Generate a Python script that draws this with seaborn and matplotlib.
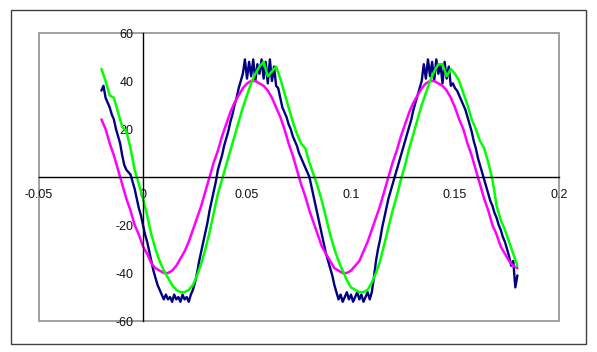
import numpy as np
import pandas as pd
import matplotlib
matplotlib.use("Agg")
import matplotlib.pyplot as plt
import seaborn as sns
from matplotlib.patches import Rectangle

# sample times: navy trace every 1 ms, the other two every 2 ms
t_navy = np.round(np.linspace(-0.02, 0.18, 201), 4)
t_slow = np.round(np.linspace(-0.02, 0.18, 101), 4)

navy = [36, 38, 33, 31, 29, 26, 24, 20, 17, 14,
        9, 5, 3, 2, 1, -2, -5, -9, -13, -16,
        -20, -24, -27, -31, -35, -39, -42, -45, -47, -49,
        -51, -49, -51, -50, -52, -49, -51, -50, -52, -49,
        -51, -50, -52, -49, -47, -44, -40, -35, -31, -27,
        -23, -19, -14, -10, -6, -2, 3, 6, 9, 13,
        16, 19, 23, 26, 30, 33, 37, 40, 43, 49,
        41, 48, 42, 49, 40, 47, 43, 49, 41, 48,
        39, 49, 40, 46, 38, 37, 33, 29, 27, 25,
        22, 20, 17, 15, 13, 10, 8, 6, 4, 2,
        0, -4, -8, -12, -16, -20, -24, -28, -32, -35,
        -38, -41, -45, -48, -51, -49, -52, -50, -48, -51,
        -49, -52, -50, -48, -51, -49, -52, -50, -48, -51,
        -48, -42, -35, -30, -26, -21, -17, -13, -9, -6,
        -3, 0, 3, 6, 9, 12, 15, 18, 21, 24,
        28, 31, 34, 37, 40, 47, 41, 49, 42, 48,
        40, 49, 43, 47, 39, 48, 41, 46, 38, 39,
        37, 36, 34, 32, 30, 28, 25, 22, 19, 15,
        12, 8, 5, 2, -1, -4, -7, -10, -12, -15,
        -17, -20, -22, -25, -27, -30, -33, -37, -35, -46,
        -41]

green = [45, 40, 34, 33, 27, 21, 19, 12, 3, -3,
         -9, -16, -24, -30, -35, -39, -42, -45, -47, -48,
         -48, -47, -45, -41, -36, -30, -23, -15, -7, -1,
         5, 11, 17, 23, 29, 34, 39, 43, 46, 48,
         42, 44, 46, 41, 35, 29, 23, 18, 14, 12,
         6, 1, -4, -10, -17, -24, -30, -35, -39, -43,
         -46, -47, -48, -48, -47, -44, -40, -35, -28, -21,
         -14, -8, -1, 5, 12, 18, 24, 30, 35, 40,
         44, 47, 47, 42, 45, 43, 40, 35, 30, 24,
         20, 15, 12, 6, -1, -12, -18, -22, -27, -32,
         -37]

magenta = [24, 20, 14, 9, 3, -3, -9, -14, -20, -24,
           -29, -32, -36, -38, -39, -40, -40, -39, -37, -34,
           -31, -27, -22, -17, -12, -6, 0, 6, 11, 17,
           22, 27, 31, 34, 37, 39, 40, 40, 39, 38,
           36, 33, 29, 25, 20, 14, 9, 3, -3, -8,
           -14, -19, -24, -29, -32, -35, -38, -39, -40, -40,
           -39, -37, -35, -31, -27, -22, -17, -12, -6, 0,
           6, 11, 17, 22, 27, 31, 34, 37, 39, 40,
           40, 39, 38, 36, 33, 29, 24, 20, 14, 9,
           3, -3, -9, -14, -20, -24, -29, -32, -35, -37,
           -38]

x_ticks = [-0.05, 0, 0.05, 0.1, 0.15, 0.2]
x_labels = ["-0.05", "0", "0.05", "0.1", "0.15", "0.2"]
y_ticks = [-60, -40, -20, 0, 20, 40, 60]
y_labels = ["-60", "-40", "-20", "", "20", "40", "60"]

sns.set_style("white")
plt.rcParams['font.family'] = ['Liberation Sans', 'DejaVu Sans']

fig = plt.figure(figsize=(5.97, 3.52), dpi=100)
ax = fig.add_axes([39 / 597, 31 / 352, 520 / 597, 288 / 352])

sns.lineplot(x=t_navy, y=navy, color="#000080", linewidth=1.7,
             sort=False, estimator=None, ax=ax)
sns.lineplot(x=t_slow, y=magenta, color="#FF00FF", linewidth=1.8,
             sort=False, estimator=None, ax=ax)
sns.lineplot(x=t_slow, y=green, color="#00FF00", linewidth=1.8,
             sort=False, estimator=None, ax=ax)

ax.set_xlim(-0.05, 0.2)
ax.set_ylim(-60, 60)
ax.set_xticks(x_ticks)
ax.set_xticklabels(x_labels)
ax.set_yticks(y_ticks)
ax.set_yticklabels(y_labels)

# excel style axes crossing at zero
for side in ["top", "right"]:
    ax.spines[side].set_visible(False)
for side in ["left", "bottom"]:
    ax.spines[side].set_position(("data", 0))
    ax.spines[side].set_color("black")
    ax.spines[side].set_linewidth(1)
ax.tick_params(direction="out", length=4, width=1, color="black",
               labelsize=9, labelcolor="#111111", pad=3)
ax.tick_params(axis="x", pad=5)

# plot area frame
ax.add_patch(Rectangle((0, 0), 1, 1, transform=ax.transAxes, fill=False,
                       edgecolor="#a0a0a0", linewidth=1.4, clip_on=False, zorder=0))
# chart area frame
fig.patches.append(Rectangle((11 / 597, 8 / 352), 575 / 597, 334 / 352,
                             transform=fig.transFigure, fill=False,
                             edgecolor="#404040", linewidth=1))

fig.savefig("out.png", dpi=100)
